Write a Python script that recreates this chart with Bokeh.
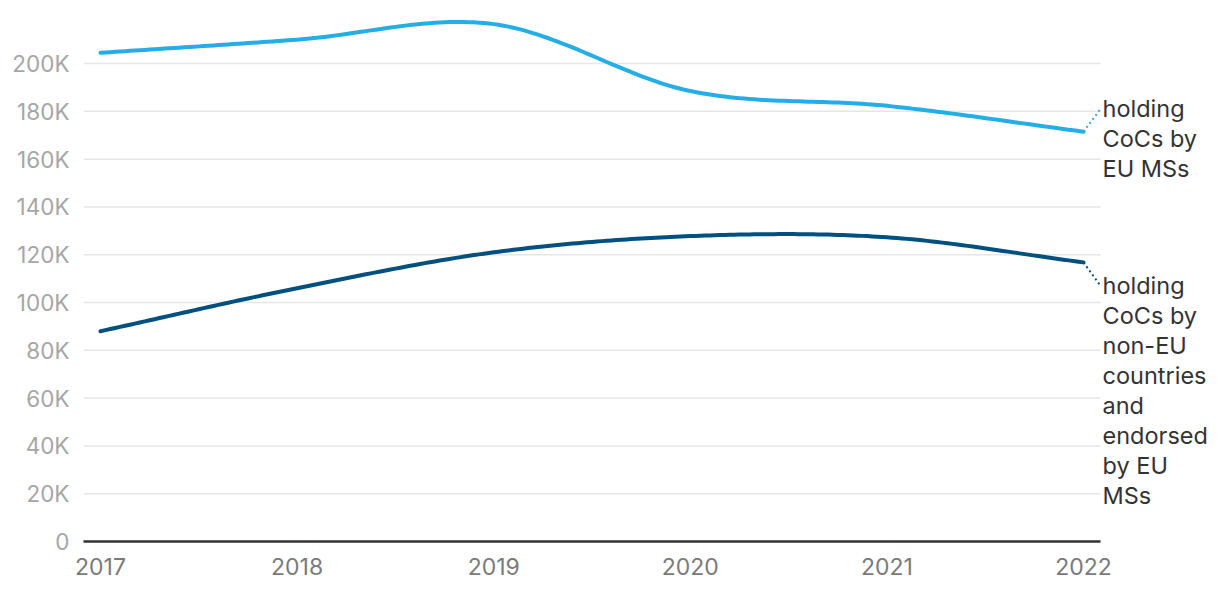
import numpy as np
from bokeh.plotting import figure
from bokeh.models import Range1d, FixedTicker, ColumnDataSource
from bokeh.core.properties import value
from bokeh.embed import file_html
from bokeh.resources import INLINE

years = [2017, 2018, 2019, 2020, 2021, 2022]
eu_ms = [204500, 210000, 216500, 188500, 182300, 171500]
non_eu = [88000, 106000, 121000, 127800, 127300, 116800]
y_ticks = [0, 20000, 40000, 60000, 80000, 100000, 120000, 140000, 160000, 180000, 200000]
y_tick_labels = ["0", "20K", "40K", "60K", "80K", "100K", "120K", "140K", "160K", "180K", "200K"]
label_eu = ["holding", "CoCs by", "EU MSs"]
label_non = ["holding", "CoCs by", "non-EU", "countries", "and", "endorsed", "by EU", "MSs"]

C_EU = "#25aee6"
C_NON = "#01507f"

PX_PER_YEAR = 196.6
X0 = 2016.9135
X_PLOT_END = 2022.0865
X_END = X0 + (1212 - 83) / PX_PER_YEAR


def catmull_rom(xs, ys, n=40):
    xs = np.asarray(xs, float)
    ys = np.asarray(ys, float)
    m = np.zeros_like(ys)
    m[1:-1] = (ys[2:] - ys[:-2]) / (xs[2:] - xs[:-2])
    m[0] = (ys[1] - ys[0]) / (xs[1] - xs[0])
    m[-1] = (ys[-1] - ys[-2]) / (xs[-1] - xs[-2])
    ox, oy = [], []
    for i in range(len(xs) - 1):
        h = xs[i + 1] - xs[i]
        t = np.linspace(0, 1, n, endpoint=(i == len(xs) - 2))
        h00 = 2 * t**3 - 3 * t**2 + 1
        h10 = t**3 - 2 * t**2 + t
        h01 = -2 * t**3 + 3 * t**2
        h11 = t**3 - t**2
        ox.extend(xs[i] + t * h)
        oy.extend(h00 * ys[i] + h10 * h * m[i] + h01 * ys[i + 1] + h11 * h * m[i + 1])
    return ox, oy


p = figure(width=1212, height=590, output_backend="svg", toolbar_location=None,
           x_range=Range1d(X0, X_END), y_range=Range1d(0, 222200),
           min_border_left=83, min_border_right=0, min_border_top=10, min_border_bottom=49)
p.outline_line_color = None
p.background_fill_color = "white"
p.border_fill_color = "white"

p.xgrid.grid_line_color = None
p.ygrid.grid_line_color = None

# horizontal gridlines limited to the plotting area
p.segment(x0=[X0] * len(y_ticks), x1=[X_PLOT_END] * len(y_ticks), y0=y_ticks, y1=y_ticks,
          line_color="#e6e6e6", line_width=1.5)

p.yaxis.ticker = FixedTicker(ticks=y_ticks)
p.yaxis.major_label_overrides = {t: l for t, l in zip(y_ticks, y_tick_labels)}
p.yaxis.axis_line_color = None
p.yaxis.major_tick_line_color = None
p.yaxis.minor_tick_line_color = None
p.yaxis.major_label_standoff = 8
p.yaxis.major_label_text_font = "Inter"
p.yaxis.major_label_text_font_size = "22.5px"
p.yaxis.major_label_text_color = "#a6a6a6"

p.xaxis.ticker = FixedTicker(ticks=years)
p.xaxis.major_label_overrides = {y: str(y) for y in years}
p.xaxis.bounds = (X0, X_PLOT_END)
p.xaxis.axis_line_color = "#333333"
p.xaxis.axis_line_width = 2.5
p.xaxis.major_tick_line_color = None
p.xaxis.minor_tick_line_color = None
p.xaxis.major_label_standoff = 10
p.xaxis.major_label_text_font = "Inter"
p.xaxis.major_label_text_font_size = "23px"
p.xaxis.major_label_text_color = "#7a7a7a"

for ys, c in ((non_eu, C_NON), (eu_ms, C_EU)):
    sx, sy = catmull_rom(years, ys)
    p.line(sx, sy, line_color=c, line_width=4, line_cap="round", line_join="round")

# connectors and labels
lab_x = years[-1] + 17 / PX_PER_YEAR
eu_anchor = 181000
non_anchor = 107000
p.line([years[-1], lab_x], [eu_ms[-1], eu_anchor], line_color=C_EU, line_width=2, line_dash="2 3")
p.line([years[-1], lab_x], [non_eu[-1], non_anchor], line_color=C_NON, line_width=2, line_dash="2 3")

txt, tx, ty, toff = [], [], [], []
for lines, yv in ((label_eu, eu_anchor), (label_non, non_anchor)):
    for i, t in enumerate(lines):
        txt.append(t)
        tx.append(years[-1])
        ty.append(yv)
        toff.append(30 * i)
src = ColumnDataSource(dict(x=tx, y=ty, text=txt, yo=toff))
p.text(x="x", y="y", text="text", source=src, x_offset=19, y_offset="yo",
       text_font=value("Inter"), text_font_size="23.5px", text_color="#333333",
       text_baseline="middle", text_align="left")

open("out.html", "w").write(file_html(p, INLINE))
